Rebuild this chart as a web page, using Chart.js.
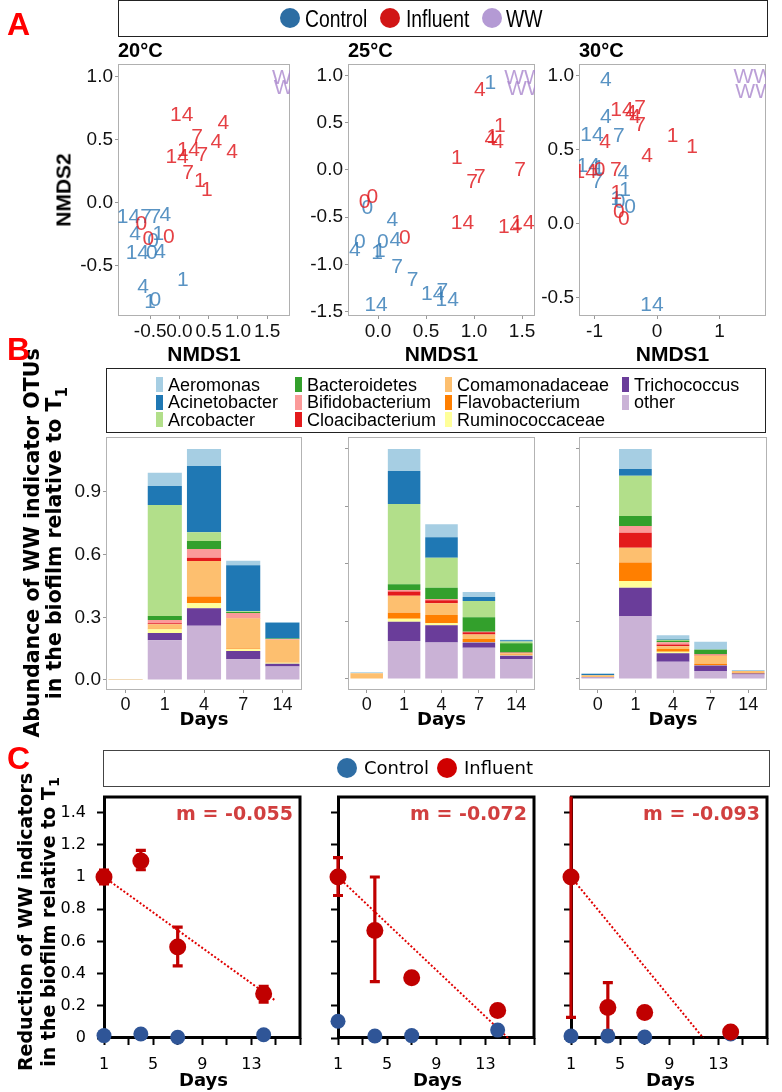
<!DOCTYPE html>
<html><head><meta charset="utf-8">
<script src="https://cdn.jsdelivr.net/npm/chart.js@4.4.1/dist/chart.umd.min.js"></script>
<style>
html,body{margin:0;padding:0;background:#fff;}
#root{position:relative;width:782px;height:1092px;overflow:hidden;background:#fff;}
canvas{position:absolute;}
.t{position:absolute;white-space:nowrap;}
.box{position:absolute;box-sizing:border-box;}
</style></head><body><div id="root"></div>
<script>
// ================= DATA =================
// Panel A: NMDS ordination (labels = sampling day)
const a20CtrlDay = ['14','7','7','4','4','1','14','0','4','0','4','1','0','1'];
const a20CtrlX   = [-0.87,-0.57,-0.41,-0.24,-0.76,-0.36,-0.72,-0.47,-0.33,-0.45,-0.62,0.06,-0.41,-0.50];
const a20CtrlY   = [-0.11,-0.11,-0.11,-0.10,-0.25,-0.25,-0.40,-0.40,-0.39,-0.30,-0.67,-0.61,-0.77,-0.79];
const a20InfDay  = ['14','4','7','4','4','1','14','4','7','7','1','1','0','0','0'];
const a20InfX    = [0.04,0.75,0.30,0.63,0.90,0.06,-0.04,0.25,0.39,0.15,0.35,0.47,-0.65,-0.53,-0.18];
const a20InfY    = [0.70,0.63,0.52,0.48,0.40,0.42,0.36,0.42,0.38,0.24,0.17,0.10,-0.17,-0.29,-0.27];
const a20WWX     = [1.92,1.95];
const a20WWY     = [0.99,0.91];

const a25CtrlDay = ['1','0','4','0','4','0','4','1','1','7','7','14','7','14','14'];
const a25CtrlX   = [1.17,-0.11,0.15,-0.19,-0.24,0.05,0.18,-0.01,0.02,0.20,0.36,0.57,0.67,0.72,-0.02];
const a25CtrlY   = [0.92,-0.40,-0.53,-0.76,-0.85,-0.76,-0.74,-0.88,-0.86,-1.03,-1.17,-1.32,-1.28,-1.38,-1.43];
const a25InfDay  = ['4','1','1','4','4','1','7','7','7','14','14','14','0','0','0'];
const a25InfX    = [1.06,1.27,1.19,1.17,1.25,0.82,0.98,1.06,1.48,0.88,1.37,1.51,-0.14,-0.06,0.28];
const a25InfY    = [0.85,0.46,0.35,0.33,0.29,0.13,-0.13,-0.08,0.0,-0.56,-0.61,-0.56,-0.34,-0.29,-0.72];
const a25WWX     = [1.52,1.55];
const a25WWY     = [0.97,0.86];

const a30CtrlDay = ['4','4','14','7','14','1','7','4','1','1','0','0','14'];
const a30CtrlX   = [-0.82,-0.82,-1.04,-0.61,-1.10,-0.93,-0.96,-0.54,-0.51,-0.65,-0.60,-0.43,-0.08];
const a30CtrlY   = [0.97,0.72,0.60,0.59,0.39,0.38,0.28,0.34,0.23,0.17,0.15,0.11,-0.55];
const a30InfDay  = ['14','4','7','4','7','4','1','1','4','14','0','7','1','0','0'];
const a30InfX    = [-0.56,-0.42,-0.27,-0.35,-0.27,-0.83,0.25,0.56,-0.16,-1.15,-0.92,-0.66,-0.65,-0.61,-0.53];
const a30InfY    = [0.77,0.75,0.78,0.72,0.67,0.55,0.59,0.52,0.46,0.35,0.36,0.36,0.21,0.08,0.03];
const a30WWX     = [1.54,1.57];
const a30WWY     = [0.99,0.89];

const aTemps = ['20°C','25°C','30°C'];
const aXTicks20 = [-0.5,0,0.5,1,1.5];
const aXTicks25 = [0,0.5,1,1.5];
const aXTicks30 = [-1,0,1];
const aYTicks20 = [-0.5,0,0.5,1];
const aYTicks25 = [-1.5,-1,-0.5,0,0.5,1];
const aYTicks30 = [-0.5,0,0.5,1];

// Panel B: stacked abundance, days 0,1,4,7,14 (legend order)
const bDays = ['0','1','4','7','14'];
const bTaxa = ['Aeromonas','Acinetobacter','Arcobacter','Bacteroidetes','Bifidobacterium','Cloacibacterium','Comamonadaceae','Flavobacterium','Ruminococcaceae','Trichococcus','other'];
const bColors = ['#A6CEE3','#1F78B4','#B2DF8A','#33A02C','#FB9A99','#E31A1C','#FDBF6F','#FF7F00','#FFFF99','#6A3D9A','#CAB2D6'];
const b20 = [
  [0,0.064,0.081,0.022,0.003],
  [0,0.091,0.317,0.220,0.075],
  [0,0.531,0.042,0.004,0.001],
  [0,0.019,0.038,0.004,0.002],
  [0,0.015,0.042,0.024,0.004],
  [0,0.005,0.016,0.002,0],
  [0.003,0.022,0.170,0.144,0.108],
  [0,0.002,0.032,0.004,0.002],
  [0.001,0.018,0.024,0.008,0.004],
  [0,0.035,0.083,0.040,0.013],
  [0.001,0.190,0.260,0.099,0.065]
];
const b25 = [
  [0.004,0.096,0.057,0.022,0.003],
  [0,0.143,0.089,0.017,0.005],
  [0,0.349,0.130,0.071,0.008],
  [0,0.025,0.049,0.063,0.040],
  [0,0.007,0.006,0.002,0.001],
  [0,0.018,0.013,0.010,0.002],
  [0.025,0.074,0.051,0.019,0.006],
  [0,0.026,0.036,0.013,0.003],
  [0,0.013,0.009,0.002,0.002],
  [0,0.084,0.075,0.023,0.014],
  [0,0.165,0.158,0.136,0.087]
];
const b30 = [
  [0.003,0.087,0.016,0.033,0.004],
  [0.006,0.029,0.004,0.001,0],
  [0,0.175,0.004,0.001,0],
  [0,0.044,0.006,0.020,0],
  [0,0.029,0.010,0.002,0],
  [0,0.065,0.008,0.003,0],
  [0.008,0.065,0.012,0.036,0.009],
  [0,0.080,0.012,0.006,0.002],
  [0,0.029,0.006,0.002,0],
  [0.002,0.123,0.037,0.023,0.005],
  [0.006,0.274,0.075,0.035,0.019]
];
const bYTicks20 = [0,0.3,0.6,0.9];
const bYLabels20 = ['0.0','0.3','0.6','0.9'];
const bYTicksOther = [0,0.25,0.5,0.75,1.0];

// Panel C: reduction relative to T1
const cDays = [1,4,7,14];
const c20Inf = [1.0,1.10,0.565,0.275];
const c20InfLo = [0.957,1.045,0.448,0.223];
const c20InfHi = [1.043,1.165,0.689,0.321];
const c20Ctrl = [0.015,0.025,0.005,0.02];
const c20TrendX = [1,15];
const c20TrendY = [1.0,0.23];
const c25Inf = [1.0,0.667,0.374,0.171];
const c25InfLo = [0.885,0.35,null,null];
const c25InfHi = [1.12,1.0,null,null];
const c25Ctrl = [0.104,0.012,0.015,0.049];
const c25TrendX = [1,14.85];
const c25TrendY = [1.0,0.0];
const c30Inf = [1.0,0.189,0.159,0.037];
const c30InfLo = [0.128,0.043,null,null];
const c30InfHi = [1.872,0.344,null,null];
const c30Ctrl = [0.012,0.012,0.006,0.025];
const c30TrendX = [1,11.77];
const c30TrendY = [1.0,0.0];
const cSlopes = ['-0.055','-0.072','-0.093'];
const cXTicks = [1,3,5,7,9,11,13,15,17];
const cXLabels = ['1','','5','','9','','13','',''];
const cYTicks = [0,0.2,0.4,0.6,0.8,1.0,1.2,1.4];
const cYLabels = ['0','0.2','0.4','0.6','0.8','1','1.2','1.4'];

// ================= HELPERS =================
const ARIAL = '"Liberation Sans", Arial, sans-serif';
const VERD = '"DejaVu Sans", Verdana, sans-serif';
const root = document.getElementById('root');

function txt(html, x, y, font, opts) {
  opts = opts || {};
  const d = document.createElement('div');
  d.className = 't';
  d.innerHTML = html;
  d.style.font = font;
  d.style.lineHeight = opts.lh || '1';
  d.style.left = x + 'px'; d.style.top = y + 'px';
  d.style.color = opts.color || '#000';
  if (opts.center) d.style.textAlign = 'center';
  let tr = opts.anchor === 'left' ? 'translate(0,-50%)' : (opts.anchor === 'right' ? 'translate(-100%,-50%)' : 'translate(-50%,-50%)');
  if (opts.rot) tr += ' rotate(-90deg)';
  if (opts.sx) { tr += ' scaleX(' + opts.sx + ')'; d.style.transformOrigin = 'left center'; }
  d.style.transform = tr;
  root.appendChild(d);
  return d;
}
function box(l, t, w, h, css) {
  const d = document.createElement('div');
  d.className = 'box';
  d.style.left = l + 'px'; d.style.top = t + 'px'; d.style.width = w + 'px'; d.style.height = h + 'px';
  Object.assign(d.style, css || {});
  root.appendChild(d);
  return d;
}
function makeCanvas(b, m) {
  const c = document.createElement('canvas');
  const w = b.r - b.l + m.l + m.r, h = b.b - b.t + m.t + m.b;
  c.width = w; c.height = h;
  c.style.left = (b.l - m.l) + 'px'; c.style.top = (b.t - m.t) + 'px';
  c.style.width = w + 'px'; c.style.height = h + 'px';
  root.appendChild(c);
  return c;
}
function fitX(mB) { return s => { s.height = mB; s.paddingLeft = 0; s.paddingRight = 0; s.paddingTop = 0; s.paddingBottom = 0; }; }
function fitY(mL) { return s => { s.width = mL; s.paddingTop = 0; s.paddingBottom = 0; s.paddingLeft = 0; s.paddingRight = 0; }; }
function setTicks(vals) { return s => { s.ticks = vals.map(v => ({ value: v })); }; }
function pts(xs, ys) { return xs.map((x, i) => ({ x: x, y: ys[i] })); }

function drawFrame(chart, o) {
  const { ctx, chartArea: a } = chart;
  ctx.save();
  ctx.strokeStyle = o.color; ctx.lineWidth = o.width;
  ctx.strokeRect(a.left + 0.5, a.top + 0.5, a.right - a.left - 1, a.bottom - a.top - 1);
  ctx.restore();
}
const framePlugin = {
  id: 'frame',
  beforeDatasetsDraw(chart, args, o) { if (o && o.color && o.under) drawFrame(chart, o); },
  afterDatasetsDraw(chart, args, o) { if (o && o.color && !o.under) drawFrame(chart, o); }
};
const textPtsPlugin = {
  id: 'textPts',
  afterDatasetsDraw(chart) {
    const { ctx, chartArea: a } = chart;
    ctx.save();
    ctx.beginPath(); ctx.rect(a.left, a.top, a.right - a.left, a.bottom - a.top); ctx.clip();
    chart.data.datasets.forEach((ds, i) => {
      if (!ds.textLabels) return;
      const meta = chart.getDatasetMeta(i);
      ctx.fillStyle = ds.textColor;
      ctx.font = '21px ' + ARIAL;
      ctx.textAlign = 'center'; ctx.textBaseline = 'middle';
      meta.data.forEach((el, j) => { ctx.fillText(ds.textLabels[j], el.x, el.y); });
    });
    ctx.restore();
  }
};
const errPlugin = {
  id: 'errbars',
  beforeDatasetsDraw(chart) {
    const { ctx, chartArea: a } = chart;
    const ys = chart.scales.y;
    chart.data.datasets.forEach((ds, i) => {
      if (!ds.errLo) return;
      const meta = chart.getDatasetMeta(i);
      ctx.save();
      ctx.beginPath(); ctx.rect(a.left - 20, a.top, a.right - a.left + 40, a.bottom - a.top + 20); ctx.clip();
      ctx.strokeStyle = ds.errColor; ctx.lineWidth = 3.2; ctx.lineCap = 'butt';
      meta.data.forEach((el, j) => {
        const lo = ds.errLo[j], hi = ds.errHi[j];
        if (lo == null) return;
        const y1 = ys.getPixelForValue(lo), y2 = ys.getPixelForValue(hi);
        ctx.beginPath();
        ctx.moveTo(el.x, y1); ctx.lineTo(el.x, y2);
        ctx.moveTo(el.x - 5, y1); ctx.lineTo(el.x + 5, y1);
        ctx.moveTo(el.x - 5, y2); ctx.lineTo(el.x + 5, y2);
        ctx.stroke();
      });
      ctx.restore();
    });
  }
};
Chart.register(framePlugin, textPtsPlugin, errPlugin);

// ================= PANEL A =================
const aBoxes = [
  { l: 118, r: 290, t: 64, b: 316 },
  { l: 348, r: 535, t: 64, b: 316 },
  { l: 579, r: 766, t: 64, b: 316 }
];
const aRanges = [
  { x: [-1.05, 1.89], y: [-0.897, 1.103] },
  { x: [-0.3125, 1.635], y: [-1.547, 1.123] },
  { x: [-1.248, 1.744], y: [-0.622, 1.081] }
];
const aData = [
  { cx: a20CtrlX, cy: a20CtrlY, cd: a20CtrlDay, ix: a20InfX, iy: a20InfY, id: a20InfDay, wx: a20WWX, wy: a20WWY, xt: aXTicks20, yt: aYTicks20 },
  { cx: a25CtrlX, cy: a25CtrlY, cd: a25CtrlDay, ix: a25InfX, iy: a25InfY, id: a25InfDay, wx: a25WWX, wy: a25WWY, xt: aXTicks25, yt: aYTicks25 },
  { cx: a30CtrlX, cy: a30CtrlY, cd: a30CtrlDay, ix: a30InfX, iy: a30InfY, id: a30InfDay, wx: a30WWX, wy: a30WWY, xt: aXTicks30, yt: aYTicks30 }
];
function fmtA(v, decimals) { return decimals ? v.toFixed(1) : String(Math.round(v)); }
aBoxes.forEach((bx, k) => {
  const m = { l: 60, r: 4, t: 4, b: 30 };
  const d = aData[k];
  const dec = k < 2;
  new Chart(makeCanvas(bx, m), {
    type: 'scatter',
    data: { datasets: [
      { label: 'Control', data: pts(d.cx, d.cy), pointRadius: 0, textLabels: d.cd, textColor: 'rgba(60,128,185,0.85)' },
      { label: 'Influent', data: pts(d.ix, d.iy), pointRadius: 0, textLabels: d.id, textColor: 'rgba(225,30,35,0.85)' },
      { label: 'WW', data: pts(d.wx, d.wy), pointRadius: 0, textLabels: d.wx.map(() => 'WW'), textColor: 'rgba(170,135,205,0.8)' }
    ] },
    options: {
      responsive: false, animation: false, devicePixelRatio: 1,
      layout: { padding: { left: 0, right: m.r, top: m.t, bottom: 0 } },
      plugins: { legend: { display: false }, tooltip: { enabled: false }, frame: { color: '#b0b0b0', width: 1 } },
      scales: {
        x: { type: 'linear', min: aRanges[k].x[0], max: aRanges[k].x[1], afterFit: fitX(m.b), afterBuildTicks: setTicks(d.xt),
             border: { display: false }, grid: { drawOnChartArea: false, drawTicks: true, tickLength: 3, color: '#999' },
             ticks: { autoSkip: false, maxRotation: 0, minRotation: 0, padding: 1, color: '#111', font: { family: ARIAL, size: 19 }, callback: v => fmtA(v, dec) } },
        y: { type: 'linear', min: aRanges[k].y[0], max: aRanges[k].y[1], afterFit: fitY(m.l), afterBuildTicks: setTicks(d.yt),
             border: { display: false }, grid: { drawOnChartArea: false, drawTicks: true, tickLength: 3, color: '#999' },
             ticks: { autoSkip: false, padding: 2, color: '#111', font: { family: ARIAL, size: 19 }, callback: v => v.toFixed(1) } }
      }
    }
  });
  txt(aTemps[k], bx.l, 50, 'bold 20px ' + ARIAL, { anchor: 'left' });
  txt('NMDS1', (bx.l + bx.r) / 2, 353, 'bold 21px ' + ARIAL);
});
txt('NMDS2', 63, 190, 'bold 21px ' + ARIAL, { rot: true });
// A legend
box(118, 0, 650, 37, { border: '1.5px solid #222' });
[['Control', '#2C6DA3', 290, 305], ['Influent', '#D11515', 390, 406], ['WW', '#B49AD4', 492, 506]].forEach(it => {
  box(it[2] - 10, 8, 20, 20, { background: it[1], borderRadius: '50%' });
  txt(it[0], it[3], 18.5, '23px ' + ARIAL, { anchor: 'left', sx: 0.84 });
});

// ================= PANEL B =================
const bBoxes = [
  { l: 106, r: 302, t: 437, b: 690 },
  { l: 348, r: 535, t: 437, b: 690 },
  { l: 579, r: 767, t: 437, b: 690 }
];
const bSets = [b20, b25, b30];
bBoxes.forEach((bx, k) => {
  const m = { l: 50, r: 4, t: 4, b: 30 };
  const first = k === 0;
  const datasets = [];
  for (let i = bTaxa.length - 1; i >= 0; i--) {
    datasets.push({ label: bTaxa[i], data: bSets[k][i], backgroundColor: bColors[i], borderWidth: 0, barPercentage: 0.87, categoryPercentage: 1 });
  }
  new Chart(makeCanvas(bx, m), {
    type: 'bar',
    data: { labels: bDays, datasets: datasets },
    options: {
      responsive: false, animation: false, devicePixelRatio: 1,
      layout: { padding: { left: 0, right: m.r, top: m.t, bottom: 0 } },
      plugins: { legend: { display: false }, tooltip: { enabled: false }, frame: { color: '#b3b3b3', width: 1 } },
      scales: {
        x: { stacked: true, afterFit: fitX(m.b), border: { display: false },
             grid: { offset: false, drawOnChartArea: false, drawTicks: true, tickLength: 3, color: '#999' },
             ticks: { autoSkip: false, maxRotation: 0, padding: 1, color: '#111', font: { family: ARIAL, size: 18 } } },
        y: { stacked: true, min: -0.048, max: first ? 1.163 : 1.052, afterFit: fitY(m.l),
             afterBuildTicks: setTicks(first ? bYTicks20 : bYTicksOther), border: { display: false },
             grid: { drawOnChartArea: false, drawTicks: true, tickLength: 3, color: '#999' },
             ticks: { padding: 2, color: '#111', font: { family: ARIAL, size: 19 },
                      callback: (v, i) => first ? bYLabels20[i] : '' } }
      }
    }
  });
  txt('Days', (bx.l + bx.r) / 2, 719, 'bold 18px ' + VERD);
});
txt('Abundance of WW indicator OTUs<br>in the biofilm relative to T<sub style="font-size:0.75em">1</sub>', 47, 543, 'bold 20.5px ' + VERD, { rot: true, center: true, lh: '22px' });
// B legend
box(106, 368, 660, 65, { border: '1.5px solid #222' });
const bColX = [156, 295, 445, 622];
const bRowY = [384.5, 402, 419.5];
bTaxa.forEach((name, i) => {
  const col = Math.floor(i / 3), row = i % 3;
  box(bColX[col], bRowY[row] - 7.5, 7, 15, { background: bColors[i] });
  txt(name, bColX[col] + 12, bRowY[row], '18px ' + ARIAL, { anchor: 'left' });
});

// ================= PANEL C =================
const cBoxes = [
  { l: 104, r: 303, t: 792, b: 1038 },
  { l: 338, r: 537, t: 792, b: 1038 },
  { l: 571, r: 770, t: 792, b: 1038 }
];
const cSets = [
  { inf: c20Inf, lo: c20InfLo, hi: c20InfHi, ctrl: c20Ctrl, tx: c20TrendX, ty: c20TrendY },
  { inf: c25Inf, lo: c25InfLo, hi: c25InfHi, ctrl: c25Ctrl, tx: c25TrendX, ty: c25TrendY },
  { inf: c30Inf, lo: c30InfLo, hi: c30InfHi, ctrl: c30Ctrl, tx: c30TrendX, ty: c30TrendY }
];
cBoxes.forEach((bx, k) => {
  const m = { l: 50, r: 6, t: 4, b: 34 };
  const first = k === 0;
  const s = cSets[k];
  new Chart(makeCanvas(bx, m), {
    type: 'scatter',
    data: { datasets: [
      { label: 'Influent', data: pts(cDays, s.inf), pointRadius: 8.5, backgroundColor: '#C00000', borderWidth: 0, order: 0, clip: false,
        errLo: s.lo, errHi: s.hi, errColor: '#C00000' },
      { label: 'Control', data: pts(cDays, s.ctrl), pointRadius: 7.5, backgroundColor: '#2F5597', borderWidth: 0, order: 1, clip: false },
      { label: 'trend', data: pts(s.tx, s.ty), showLine: true, pointRadius: 0, borderColor: '#E00000', borderWidth: 2, borderDash: [2, 2], order: 2 }
    ] },
    options: {
      responsive: false, animation: false, devicePixelRatio: 1,
      layout: { padding: { left: 0, right: m.r, top: m.t, bottom: 0 } },
      plugins: { legend: { display: false }, tooltip: { enabled: false }, frame: { color: '#000', width: 3, under: true } },
      scales: {
        x: { type: 'linear', min: 1, max: 17, afterFit: fitX(m.b), afterBuildTicks: setTicks(cXTicks), border: { display: false },
             grid: { drawOnChartArea: false, drawTicks: true, tickLength: 7, tickWidth: 2, color: '#000' },
             ticks: { autoSkip: false, maxRotation: 0, padding: 10, color: '#000', font: { family: VERD, size: 16 },
                      callback: (v, i) => cXLabels[i] } },
        y: { type: 'linear', min: 0, max: 1.5, afterFit: fitY(m.l), afterBuildTicks: setTicks(cYTicks), border: { display: false },
             grid: { drawOnChartArea: false, drawTicks: true, tickLength: 7, tickWidth: 2, color: '#000' },
             ticks: { padding: 11, color: '#000', font: { family: VERD, size: 16 },
                      callback: (v, i) => first ? cYLabels[i] : '' } }
      }
    }
  });
  txt('m = ' + cSlopes[k], bx.r - 10, 813, 'bold 19px ' + VERD, { anchor: 'right', color: '#D13F3F' });
  txt('Days', (bx.l + bx.r) / 2, 1080, 'bold 18px ' + VERD);
});
txt('Reduction of WW indicators<br>in the biofilm relative to T<sub style="font-size:0.75em">1</sub>', 40, 922, 'bold 19px ' + VERD, { rot: true, center: true, lh: '23px' });
// C legend
box(103, 750, 667, 37, { border: '1.5px solid #444' });
[['Control', '#2E6DA4', 347, 364], ['Influent', '#D00000', 447, 464]].forEach(it => {
  box(it[2] - 10, 758, 20, 20, { background: it[1], borderRadius: '50%' });
  txt(it[0], it[3], 768, '18px ' + VERD, { anchor: 'left' });
});

// ================= PANEL LETTERS =================
txt('A', 7, 24, 'bold 32px ' + ARIAL, { anchor: 'left', color: '#FF0000' });
txt('B', 7, 349, 'bold 32px ' + ARIAL, { anchor: 'left', color: '#FF0000' });
txt('C', 7, 758, 'bold 32px ' + ARIAL, { anchor: 'left', color: '#FF0000' });
</script>
</body></html>
